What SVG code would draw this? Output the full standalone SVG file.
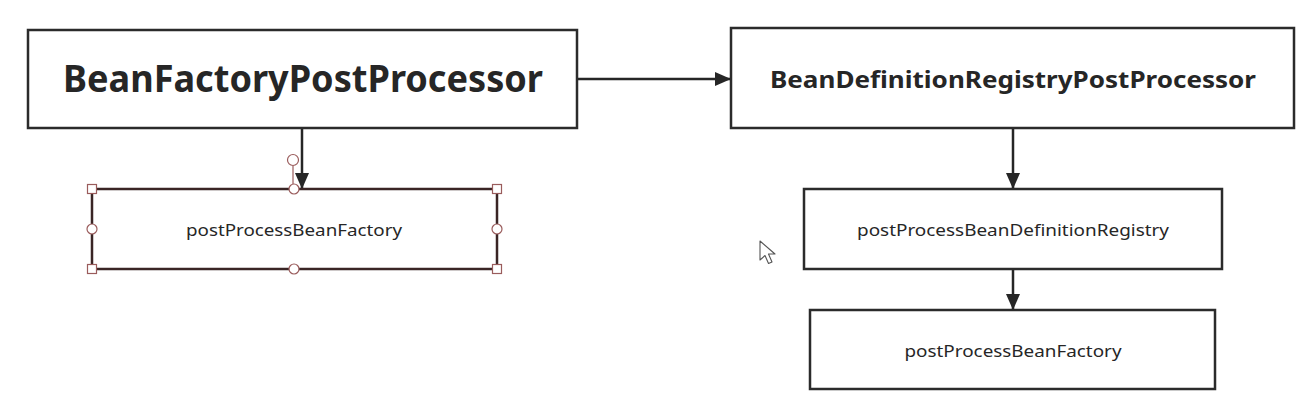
<svg xmlns="http://www.w3.org/2000/svg" width="1314" height="417" viewBox="0 0 1314 417">
<defs>
<style>
.box{fill:#ffffff;stroke:#2b2b2b;stroke-width:2.5}
.sel{fill:#ffffff;stroke:#3a2525;stroke-width:2.5}
.t{font-family:"Noto Sans","Open Sans","DejaVu Sans",sans-serif;fill:#262626;text-anchor:middle}
.big{font-size:37px;font-weight:bold}
.mid{font-size:23px;font-weight:bold}
.sm{font-size:17px}
.edge{stroke:#262626;stroke-width:2.5;fill:none}
.h{fill:#ffffff;stroke:#9a5c5c;stroke-width:1.2}
</style>
<marker id="arr" viewBox="0 0 12 12" refX="12" refY="6" markerWidth="12" markerHeight="12" markerUnits="userSpaceOnUse" orient="auto">
<path d="M0,0 L12,6 L0,12 Z" fill="#262626"/>
</marker>
<marker id="arrv" viewBox="0 0 16 14" refX="16" refY="7" markerWidth="16" markerHeight="14" markerUnits="userSpaceOnUse" orient="auto">
<path d="M0,0 L16,7 L0,14 Z" fill="#262626"/>
</marker>
</defs>
<rect width="1314" height="417" fill="#ffffff"/>

<g id="connectors">
<line class="edge" x1="577" y1="79" x2="731" y2="79" marker-end="url(#arrv)"/>
<line class="edge" x1="302" y1="128" x2="302" y2="189" marker-end="url(#arrv)"/>
<line class="edge" x1="1013" y1="128" x2="1013" y2="189" marker-end="url(#arrv)"/>
<line class="edge" x1="1013" y1="269" x2="1013" y2="310" marker-end="url(#arrv)"/>
</g>

<g id="node-bfpp">
<rect class="box" x="28" y="30" width="549" height="98"/>
<text class="t big" x="303" y="92" textLength="480" lengthAdjust="spacingAndGlyphs">BeanFactoryPostProcessor</text>
</g>

<g id="node-bdrpp">
<rect class="box" x="731" y="28" width="563" height="100"/>
<text class="t mid" x="1013" y="88" textLength="486" lengthAdjust="spacingAndGlyphs">BeanDefinitionRegistryPostProcessor</text>
</g>

<g id="node-left-pbf">
<rect class="sel" x="92" y="189" width="405" height="80"/>
<text class="t sm" x="294" y="236" textLength="216" lengthAdjust="spacingAndGlyphs">postProcessBeanFactory</text>
<line x1="293" y1="166" x2="293" y2="189" stroke="#9a5c5c" stroke-width="1.2"/>
<circle class="h" cx="293" cy="160" r="5.5"/>
<rect class="h" x="87.5" y="184.5" width="9" height="9"/>
<rect class="h" x="492.5" y="184.5" width="9" height="9"/>
<rect class="h" x="87.5" y="264.5" width="9" height="9"/>
<rect class="h" x="492.5" y="264.5" width="9" height="9"/>
<circle class="h" cx="294" cy="189" r="5"/>
<circle class="h" cx="294" cy="269" r="5"/>
<circle class="h" cx="92" cy="229" r="5"/>
<circle class="h" cx="497" cy="229" r="5"/>
</g>

<g id="node-pbdr">
<rect class="box" x="804" y="189" width="418" height="80"/>
<text class="t sm" x="1013" y="236" textLength="312" lengthAdjust="spacingAndGlyphs">postProcessBeanDefinitionRegistry</text>
</g>

<g id="node-right-pbf">
<rect class="box" x="810" y="310" width="405" height="79"/>
<text class="t sm" x="1013" y="357" textLength="217" lengthAdjust="spacingAndGlyphs">postProcessBeanFactory</text>
</g>

<g id="cursor">
<path d="M760,241 L760,260 L765,255.5 L768.5,263.5 L772,262 L768.5,254 L775,254 Z" fill="#ffffff" stroke="#555555" stroke-width="1.1" stroke-linejoin="round"/>
</g>
</svg>
